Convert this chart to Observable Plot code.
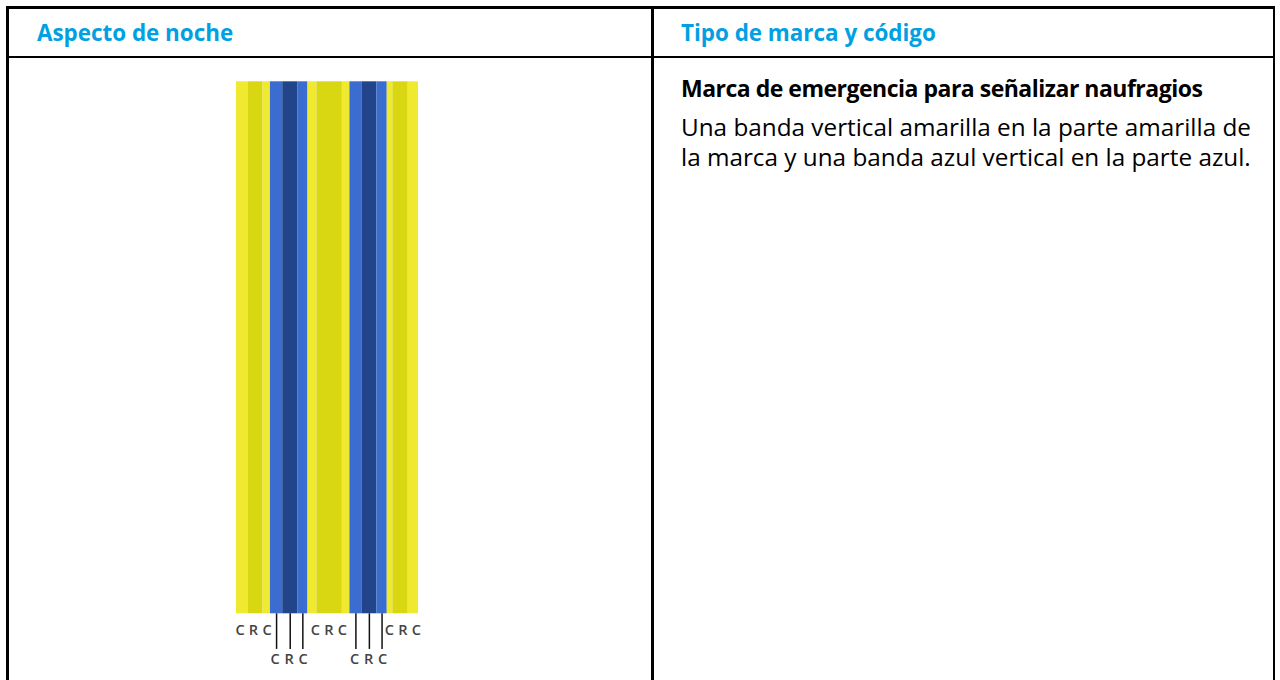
<!DOCTYPE html>
<html><head><meta charset="utf-8">
<script src="https://cdn.jsdelivr.net/npm/d3@7"></script>
<script src="https://cdn.jsdelivr.net/npm/@observablehq/plot@0.6"></script>
<style>
body{margin:0;background:#fff;width:1280px;height:680px;overflow:hidden;position:relative;font-family:"Open Sans",sans-serif;font-variant-ligatures:none;}
.ln{position:absolute;background:#000;}
.hdr{position:absolute;top:19px;color:#00A0E3;font-weight:700;font-size:22.4px;line-height:28px;white-space:nowrap;}
.txt{position:absolute;left:681px;color:#000;font-size:24.3px;line-height:30px;white-space:nowrap;}
#chart{position:absolute;left:8px;top:58px;}
</style></head>
<body>
<div class="ln" style="left:6px;top:6px;width:1269px;height:2.5px"></div>
<div class="ln" style="left:6px;top:56px;width:1269px;height:2px"></div>
<div class="ln" style="left:6px;top:6px;width:2.5px;height:680px"></div>
<div class="ln" style="left:651px;top:6px;width:2.5px;height:680px"></div>
<div class="ln" style="left:1272.5px;top:6px;width:2.5px;height:680px"></div>
<div class="hdr" style="left:37px">Aspecto de noche</div>
<div class="hdr" style="left:681px">Tipo de marca y código</div>
<div class="txt" style="top:73px;font-weight:700;font-size:23px;letter-spacing:-0.5px">Marca de emergencia para señalizar naufragios</div>
<div class="txt" style="top:112px">Una banda vertical amarilla en la parte amarilla de<br>la marca y una banda azul vertical en la parte azul.</div>
<div id="chart"></div>
<script>
// Stripe data (left to right)
const stripeWidths = [11.6, 15, 7.4, 12.3, 15, 10.3, 9, 25.4, 7.6, 12, 15, 10.4, 5.6, 15.4, 10.3];
const stripeTones  = ["amarillo claro","amarillo oscuro","amarillo claro",
                      "azul claro","azul oscuro","azul claro",
                      "amarillo claro","amarillo oscuro","amarillo claro",
                      "azul claro","azul oscuro","azul claro",
                      "amarillo claro","amarillo oscuro","amarillo claro"];
const stripeCodes  = ["C","R","C","C","R","C","C","R","C","C","R","C","C","R","C"];
const stripeGroups = ["amarillo","amarillo","amarillo","azul","azul","azul","amarillo","amarillo","amarillo","azul","azul","azul","amarillo","amarillo","amarillo"];
const toneNames  = ["amarillo claro","amarillo oscuro","azul claro","azul oscuro"];
const toneColors = ["#EFE92F","#D9D612","#3B6CCF","#21448A"];

const ends = d3.cumsum(stripeWidths);
const stripes = stripeWidths.map((w, i) => ({
  x1: ends[i] - w, x2: ends[i], mid: ends[i] - w / 2,
  tone: stripeTones[i], code: stripeCodes[i], group: stripeGroups[i]
}));
// consecutive runs of the same group -> one "C R C" label per run
const runs = [];
let run = null;
stripes.forEach(s => {
  if (!run || run.group !== s.group) { run = {group: s.group, x1: s.x1, items: []}; runs.push(run); }
  run.x2 = s.x2; run.items.push(s.code);
});
const labelData = [];
runs.forEach(r => r.items.forEach((c, k) => labelData.push({group: r.group, mid: (r.x1 + r.x2) / 2, code: c, k})));
const blue = stripes.filter(d => d.group === "azul");

const rowTop = -0.031, rowBottom = -0.086, ruleEnd = -0.067;

const textMarks = [0, 1, 2].flatMap(k => [
  Plot.text(labelData.filter(d => d.k === k && d.group === "amarillo"), {x: "mid", y: rowTop, text: "code", dx: (k - 1) * 13.5, fontSize: 14.5, fill: "#444", fontWeight: 600}),
  Plot.text(labelData.filter(d => d.k === k && d.group === "azul"), {x: "mid", y: rowBottom, text: "code", dx: (k - 1) * 14, fontSize: 14.5, fill: "#444", fontWeight: 600})
]);

const chart = Plot.plot({
  width: 644, height: 622,
  marginLeft: 228, marginRight: 234, marginTop: 23.3, marginBottom: 0,
  x: {domain: [0, d3.sum(stripeWidths)], axis: null},
  y: {domain: [-0.1254, 1], axis: null},
  color: {domain: toneNames, range: toneColors},
  style: {fontFamily: "'Open Sans', sans-serif", background: "transparent"},
  marks: [
    Plot.rect(stripes, {x1: "x1", x2: "x2", y1: 0, y2: 1, fill: "tone"}),
    Plot.ruleX(blue, {x: "mid", y1: 0, y2: ruleEnd, stroke: "#111", strokeWidth: 1.5}),
    ...textMarks
  ]
});
document.getElementById("chart").appendChild(chart);
</script>
</body></html>
